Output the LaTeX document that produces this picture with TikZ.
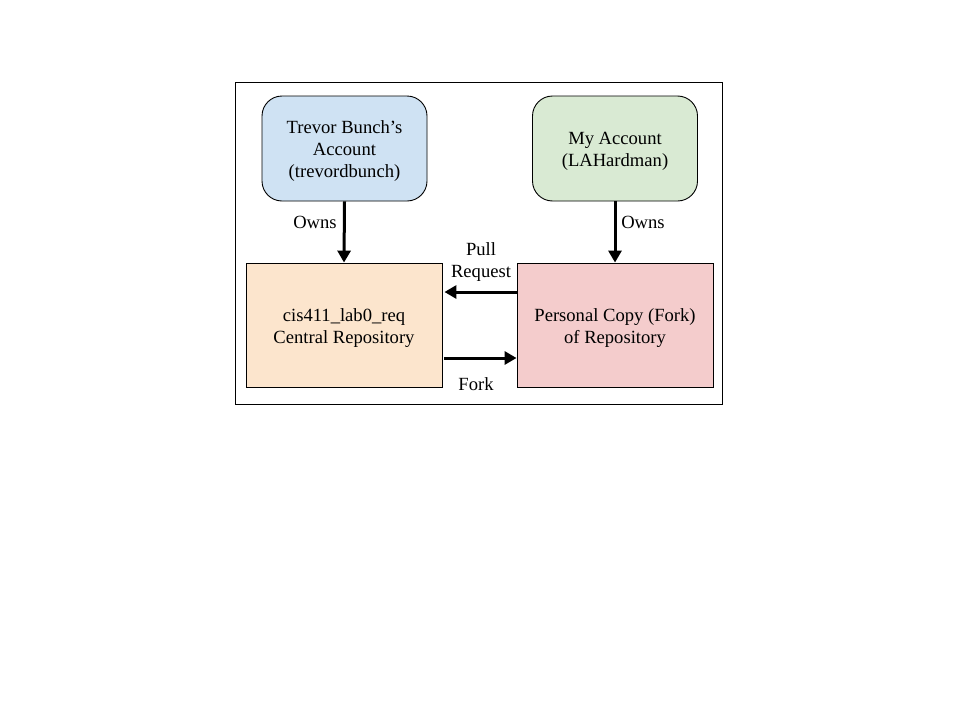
\documentclass[tikz,border=0pt]{standalone}
\usepackage{fontspec}
\setmainfont{Liberation Serif}
\usetikzlibrary{arrows.meta}
\definecolor{cblue}{HTML}{CFE2F3}
\definecolor{cgreen}{HTML}{D9EAD3}
\definecolor{corange}{HTML}{FCE5CD}
\definecolor{cred}{HTML}{F4CCCC}
\begin{document}
\begin{tikzpicture}[x=1pt,y=-1pt,
  every node/.style={font=\fontsize{18.6}{22}\selectfont, inner sep=0pt},
  acct/.style={draw=black, line width=0.9pt, rounded corners=20pt, minimum width=165pt, minimum height=105pt},
  repo/.style={draw=black, line width=0.9pt, minimum width=196pt, minimum height=124pt},
  txt/.style={label={[align=center,yshift=-3pt]center:#1}},
  arr/.style={line width=3pt, -{Triangle[length=12pt,width=13pt]}},
  lbl/.style={align=center}]
\useasboundingbox[fill=white] (0,0) rectangle (960,720);
\node[draw=black, line width=0.8pt, minimum width=487pt, minimum height=322pt] (frame) at (478.5,243) {};
\node[acct, fill=cblue, txt={Trevor Bunch’s\\Account\\(trevordbunch)}] (tb) at (344.5,148.5) {};
\node[acct, fill=cgreen, txt={My Account\\(LAHardman)}] (me) at (615,148.5) {};
\node[repo, fill=corange, txt={cis411\_lab0\_req\\Central Repository}] (cr) at (344,325) {};
\node[repo, fill=cred, txt={Personal Copy (Fork)\\of Repository}] (pc) at (615,325) {};
\draw[arr] (tb.south) -- (cr.north);
\draw[arr] (me.south) -- (pc.north);
\coordinate (pr1) at (pc.west |- 0,292);
\coordinate (pr2) at ([xshift=2pt]cr.east |- 0,292);
\draw[arr] (pr1) -- (pr2);
\coordinate (fk1) at ([xshift=2pt]cr.east |- 0,358);
\coordinate (fk2) at (pc.west |- 0,358);
\draw[arr] (fk1) -- (fk2);
\node[lbl] (o1) at (315,222) {Owns};
\node[lbl] (o2) at (643,222) {Owns};
\node[lbl] (pl) at (481,262) {Pull\\Request};
\node[lbl] (fl) at (476,384) {Fork};
\end{tikzpicture}
\end{document}
